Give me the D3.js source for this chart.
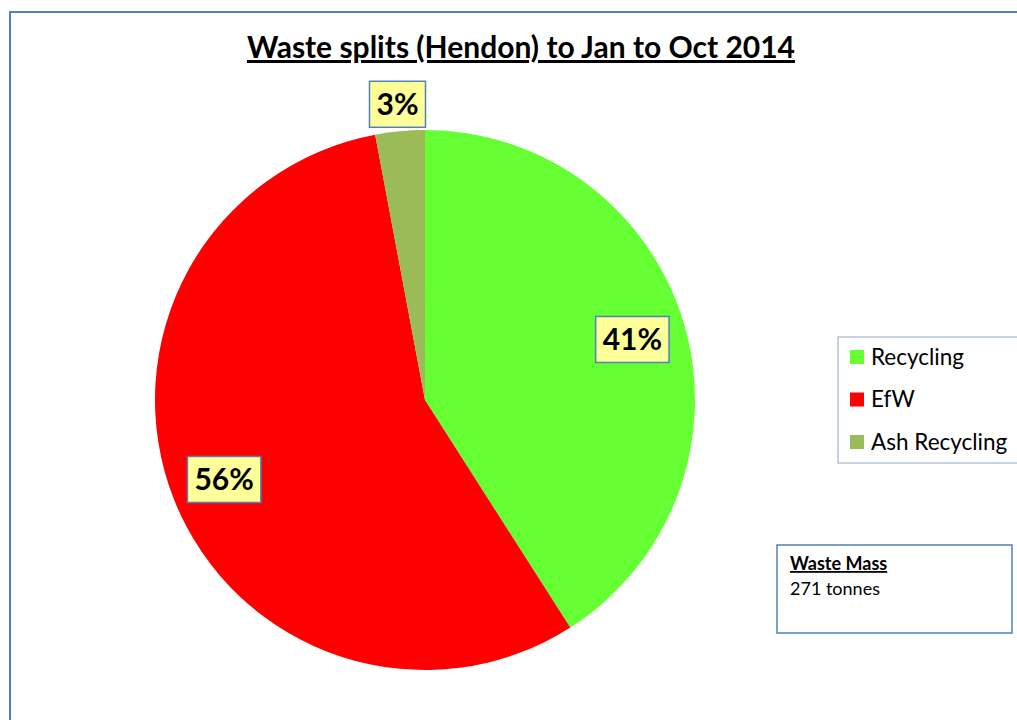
<!DOCTYPE html>
<html>
<head>
<meta charset="utf-8">
<script src="https://cdnjs.cloudflare.com/ajax/libs/d3/7.8.5/d3.min.js"></script>
<style>
  body { margin: 0; background: #fff; }
  svg { display: block; font-family: Lato, "Open Sans", sans-serif; }
</style>
</head>
<body>
<div id="chart"></div>
<script>
// chart data
const categories = ["Recycling", "EfW", "Ash Recycling"];
const tonnes = [111, 152, 8];
const colours = ["#66ff33", "#ff0000", "#9bbb59"];
const titleText = "Waste splits (Hendon) to Jan to Oct 2014";
const massTitle = "Waste Mass";
const massText = "271 tonnes";

const width = 1017, height = 720;
const cx = 425, cy = 400, radius = 270;

const svg = d3.select("#chart")
  .append("svg")
  .attr("width", width)
  .attr("height", height);

// chart area border
svg.append("rect")
  .attr("x", 10).attr("y", 12)
  .attr("width", width + 20).attr("height", height + 20)
  .attr("fill", "#fff")
  .attr("stroke", "#4f81bd")
  .attr("stroke-width", 2);

// title
svg.append("text")
  .attr("x", 521).attr("y", 58)
  .attr("text-anchor", "middle")
  .attr("font-size", 30)
  .attr("font-weight", "bold")
  .attr("text-decoration", "underline")
  .text(titleText);

const color = d3.scaleOrdinal().domain(categories).range(colours);
const total = d3.sum(tonnes);
const pieData = d3.pie().sort(null)(tonnes);
const arc = d3.arc().innerRadius(0).outerRadius(radius);

const g = svg.append("g").attr("transform", `translate(${cx},${cy})`);

g.selectAll("path.slice")
  .data(pieData)
  .join("path")
  .attr("class", "slice")
  .attr("d", arc)
  .attr("fill", (d, i) => color(categories[i]));

// data labels
const labelArcIn = d3.arc().innerRadius(radius * 0.78).outerRadius(radius * 0.82);
const labelArcOut = d3.arc().innerRadius(radius * 1.08).outerRadius(radius * 1.12);

pieData.forEach((d, i) => {
  const small = d.value / total < 0.05;
  const [x, y] = (small ? labelArcOut : labelArcIn).centroid(d);
  const lg = g.append("g").attr("transform", `translate(${x},${y})`);
  const box = lg.append("rect")
    .attr("fill", "#ffff99")
    .attr("stroke", "#4f81bd")
    .attr("stroke-width", 1.5);
  const t = lg.append("text")
    .attr("text-anchor", "middle")
    .attr("dy", "0.36em")
    .attr("font-size", 30)
    .attr("font-weight", "bold")
    .text(d3.format(".0%")(d.value / total));
  const w = t.node().getComputedTextLength();
  box.attr("x", -w / 2 - 7).attr("y", -23)
    .attr("width", w + 14).attr("height", 46);
});

// legend
const legend = svg.append("g").attr("transform", "translate(838,337)");
legend.append("rect")
  .attr("width", 200).attr("height", 126)
  .attr("fill", "#fff")
  .attr("stroke", "#8ea4c8")
  .attr("stroke-width", 1);
const item = legend.selectAll("g.item")
  .data(categories)
  .join("g")
  .attr("class", "item")
  .attr("transform", (d, i) => `translate(12,${20 + i * 42.5})`);
item.append("rect")
  .attr("x", 0).attr("y", -7)
  .attr("width", 14).attr("height", 14)
  .attr("fill", d => color(d));
item.append("text")
  .attr("x", 21).attr("dy", "0.35em")
  .attr("font-size", 22.5)
  .text(d => d);

// waste mass box
const mass = svg.append("g").attr("transform", "translate(777,545)");
mass.append("rect")
  .attr("width", 235).attr("height", 88)
  .attr("fill", "#fff")
  .attr("stroke", "#4f81bd")
  .attr("stroke-width", 1.5);
mass.append("text")
  .attr("x", 13).attr("y", 25)
  .attr("font-size", 18)
  .attr("font-weight", "bold")
  .attr("text-decoration", "underline")
  .text(massTitle);
mass.append("text")
  .attr("x", 13).attr("y", 50)
  .attr("font-size", 18)
  .text(massText);
</script>
</body>
</html>
